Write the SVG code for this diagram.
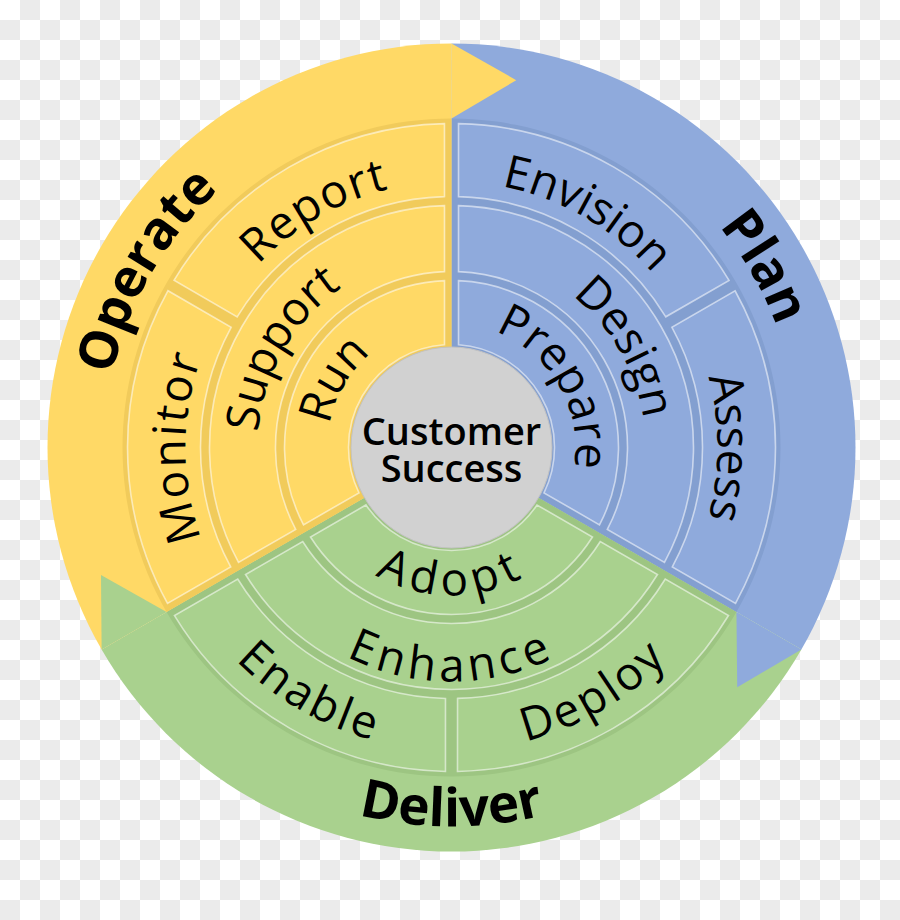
<svg xmlns="http://www.w3.org/2000/svg" width="900" height="920" viewBox="0 0 900 920">
<style>
.tile{stroke:rgba(255,255,255,0.55);stroke-width:1.6}
.y{fill:#FFD966}.b{fill:#8FAADC}.g{fill:#A9D18E}
.yd{fill:#F1CB5B}.bd{fill:#839FD0}.gd{fill:#9DC582}
.lbl{font-family:"Open Sans","Noto Sans",sans-serif;font-size:46px;fill:#000;text-anchor:middle}
.big{font-family:"Open Sans","Noto Sans",sans-serif;font-size:53px;font-weight:700;fill:#000;text-anchor:middle}
.ctr{font-family:"Open Sans","Noto Sans",sans-serif;font-size:38px;font-weight:600;fill:#000;text-anchor:middle}
</style>
<defs>
<pattern id="checker" width="40" height="40" patternUnits="userSpaceOnUse">
<rect width="40" height="40" fill="#ffffff"/>
<rect x="20" y="0" width="20" height="20" fill="#ebebeb"/>
<rect x="0" y="20" width="20" height="20" fill="#ebebeb"/>
</pattern>
<path id="wedge" d="M0,0 L0,-404 A404,404 0 0 1 349.87,202 Z"/>
<path id="ringbase" d="M0,-329 A329,329 0 0 1 284.92,164.5 L86.6,50 A100,100 0 0 0 0,-100 Z"/>
<path id="head" d="M349.87,202 L285.73,239.76 L284.92,164.5 Z"/>
<path id="t1" d="M7,-166.85 A167,167 0 0 1 148,77.38 L92.49,45.32 A103,103 0 0 0 7,-102.76 Z"/>
<path id="t2" d="M7,-241.9 A242,242 0 0 1 212.99,114.88 L155.8,81.87 A176,176 0 0 0 7,-175.86 Z"/>
<path id="t3a" d="M7,-323.92 A324,324 0 0 1 277.55,-167.15 L214.28,-130.7 A251,251 0 0 0 7,-250.9 Z"/>
<path id="t3b" d="M283.56,-156.75 A324,324 0 0 1 284.04,155.87 L220.79,119.39 A251,251 0 0 0 220.32,-120.26 Z"/>
<path id="p-envision" d="M-170.98,-203.77 A266,266 0 0 1 261.96,46.19"/>
<path id="p-report" d="M-261.96,46.19 A266,266 0 0 1 170.98,-203.77"/>
<path id="p-monitor" d="M-90.98,249.96 A266,266 0 0 1 -90.98,-249.96"/>
<path id="p-assess" d="M90.98,-249.96 A266,266 0 0 1 90.98,249.96"/>
<path id="p-support" d="M-148.61,124.7 A194,194 0 0 1 33.69,-191.05"/>
<path id="p-design" d="M-33.69,-191.05 A194,194 0 0 1 148.61,124.7"/>
<path id="p-run" d="M-94.99,79.71 A124,124 0 0 1 21.53,-122.12"/>
<path id="p-prepare" d="M-21.53,-122.12 A124,124 0 0 1 94.99,79.71"/>
<path id="p-operate" d="M-265.82,223.05 A347,347 0 0 1 60.26,-341.73"/>
<path id="p-plan" d="M-60.26,-341.73 A347,347 0 0 1 265.82,223.05"/>
<path id="p-enable" d="M-298.4,-52.62 A303,303 0 0 0 194.77,232.11"/>
<path id="p-deploy" d="M-194.77,232.11 A303,303 0 0 0 298.4,-52.62"/>
<path id="p-enhance" d="M-219.89,80.03 A234,234 0 0 0 219.89,80.03"/>
<path id="p-adopt" d="M-139.07,50.62 A148,148 0 0 0 139.07,50.62"/>
<path id="p-deliver" d="M-356.14,129.63 A379,379 0 0 0 356.14,129.63"/>
</defs>
<rect width="900" height="920" fill="url(#checker)"/>
<g transform="translate(451.5,447.5)">
<g id="plan-arrow"><use href="#wedge" class="b"/></g>
<g id="deliver-arrow" transform="rotate(120)"><use href="#wedge" class="g"/></g>
<g id="operate-arrow" transform="rotate(240)"><use href="#wedge" class="y"/></g>
<g id="connectors">
<use href="#head" class="b"/>
<use href="#head" class="g" transform="rotate(120)"/>
<use href="#head" class="y" transform="rotate(240)"/>
</g>
<g id="ring-bases">
<use href="#ringbase" class="bd"/>
<use href="#ringbase" class="gd" transform="rotate(120)"/>
<use href="#ringbase" class="yd" transform="rotate(240)"/>
</g>
<g id="tiles">
<g id="prepare"><use href="#t1" class="tile b"/></g>
<g id="design"><use href="#t2" class="tile b"/></g>
<g id="envision"><use href="#t3a" class="tile b"/></g>
<g id="assess"><use href="#t3b" class="tile b"/></g>
<g id="adopt" transform="rotate(120)"><use href="#t1" class="tile g"/></g>
<g id="enhance" transform="rotate(120)"><use href="#t2" class="tile g"/></g>
<g id="deploy" transform="rotate(120)"><use href="#t3a" class="tile g"/></g>
<g id="enable" transform="rotate(120)"><use href="#t3b" class="tile g"/></g>
<g id="run" transform="rotate(240)"><use href="#t1" class="tile y"/></g>
<g id="support" transform="rotate(240)"><use href="#t2" class="tile y"/></g>
<g id="monitor" transform="rotate(240)"><use href="#t3a" class="tile y"/></g>
<g id="report" transform="rotate(240)"><use href="#t3b" class="tile y"/></g>
</g>
<g id="customer-success">
<circle r="100.5" fill="#D1D1D1" stroke="#C2C2C2" stroke-width="1"/>
<text class="ctr" x="0" y="-2.5">Customer</text>
<text class="ctr" x="0" y="34.5">Success</text>
</g>
<g id="labels">
<text class="lbl"><textPath href="#p-envision" startOffset="50%">Envision</textPath></text>
<text class="lbl"><textPath href="#p-assess" startOffset="50%">Assess</textPath></text>
<text class="lbl"><textPath href="#p-design" startOffset="50%">Design</textPath></text>
<text class="lbl"><textPath href="#p-prepare" startOffset="50%">Prepare</textPath></text>
<text class="lbl" letter-spacing="1.5"><textPath href="#p-report" startOffset="50%">Report</textPath></text>
<text class="lbl" letter-spacing="2"><textPath href="#p-monitor" startOffset="50%">Monitor</textPath></text>
<text class="lbl"><textPath href="#p-support" startOffset="50%">Support</textPath></text>
<text class="lbl"><textPath href="#p-run" startOffset="50%">Run</textPath></text>
<text class="lbl" letter-spacing="6"><textPath href="#p-adopt" startOffset="50%">Adopt</textPath></text>
<text class="lbl" letter-spacing="5"><textPath href="#p-enhance" startOffset="50%">Enhance</textPath></text>
<text class="lbl" letter-spacing="3"><textPath href="#p-enable" startOffset="50%">Enable</textPath></text>
<text class="lbl" letter-spacing="3"><textPath href="#p-deploy" startOffset="50%">Deploy</textPath></text>
<text class="big"><textPath href="#p-operate" startOffset="50%">Operate</textPath></text>
<text class="big"><textPath href="#p-plan" startOffset="50%">Plan</textPath></text>
<text class="big"><textPath href="#p-deliver" startOffset="50%">Deliver</textPath></text>
</g>
</g>
</svg>
